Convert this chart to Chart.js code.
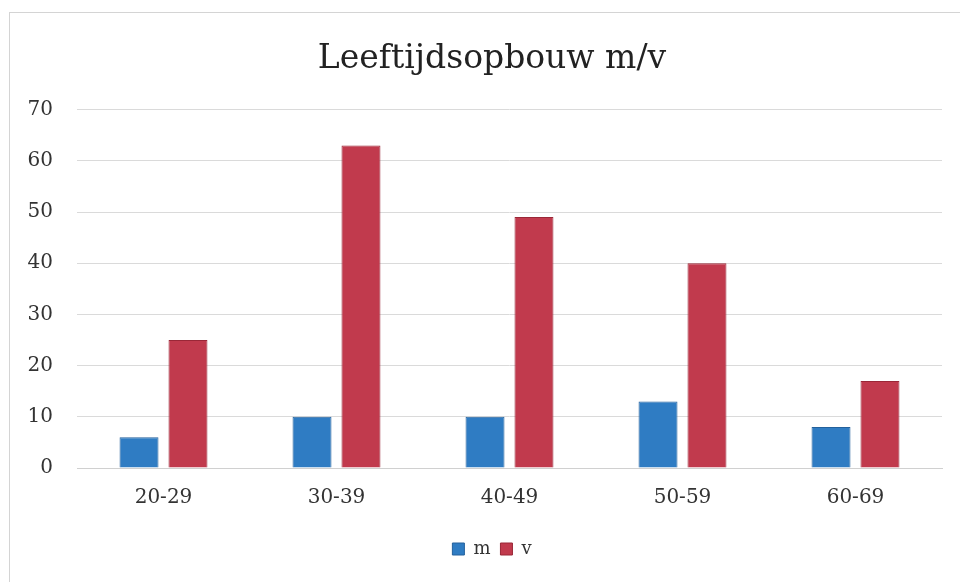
<!DOCTYPE html>
<html>
<head>
<meta charset="utf-8">
<script src="https://cdn.jsdelivr.net/npm/chart.js@4/dist/chart.umd.min.js"></script>
<style>
  html, body { margin: 0; padding: 0; background: #fff; }
  #wrap { position: relative; width: 960px; height: 582px; }
  #frame { position: absolute; left: 9px; top: 12px; right: 0; bottom: 0;
           border-left: 1px solid #d4d4d4; border-top: 1px solid #d4d4d4; }
  canvas { position: absolute; left: 0; top: 0; }
</style>
</head>
<body>
<div id="wrap">
  <div id="frame"></div>
  <canvas id="mainChart" width="960" height="582"></canvas>
</div>
<script>
// Leeftijdsopbouw per geslacht
const categories = ['20-29', '30-39', '40-49', '50-59', '60-69'];
const mannen = [6, 10, 10, 13, 8];
const vrouwen = [25, 63, 49, 40, 17];
const chartTitle = 'Leeftijdsopbouw m/v';

const serif = "'DejaVu Serif', 'Liberation Serif', serif";

document.addEventListener('DOMContentLoaded', function () {
  const ctx = document.getElementById('mainChart').getContext('2d');

  new Chart(ctx, {
    type: 'bar',
    data: {
      labels: categories,
      datasets: [
        { label: 'm', data: mannen, backgroundColor: '#2f7cc3', borderColor: '#24619c', borderWidth: 1 },
        { label: 'v', data: vrouwen, backgroundColor: '#c13a4d', borderColor: '#9a2737', borderWidth: 1 }
      ]
    },
    options: {
      responsive: false,
      animation: false,
      // uneven padding: title and legend sit a bit right of the canvas centre in the original
      layout: { padding: { left: 24, right: 0, top: 0, bottom: 14 } },
      datasets: { bar: { categoryPercentage: 0.566, barPercentage: 0.796 } },
      plugins: {
        title: {
          display: true,
          text: chartTitle,
          color: '#222',
          font: { family: serif, size: 33, weight: 'normal' },
          padding: { top: 40, bottom: 30 }
        },
        legend: {
          position: 'bottom',
          labels: {
            color: '#333',
            font: { family: serif, size: 18 },
            boxWidth: 12, boxHeight: 12, padding: 10
          }
        },
        tooltip: { enabled: false }
      },
      scales: {
        x: {
          grid: { display: false, drawTicks: false },
          border: { display: true, color: '#d0d0d0' },
          ticks: { color: '#333', font: { family: serif, size: 20 }, padding: 18 },
          afterFit: function (scale) { scale.height = 62; }
        },
        y: {
          min: 0, max: 70,
          ticks: { stepSize: 10, color: '#333', font: { family: serif, size: 20 }, padding: 24 },
          grid: { color: '#dadada', drawTicks: false },
          border: { display: false },
          afterFit: function (scale) { scale.width = 53; }
        },
        // empty spacer on the right so the plot ends where the original does
        spacer: {
          type: 'linear',
          position: 'right',
          grid: { display: false, drawTicks: false },
          border: { display: false },
          ticks: { display: false },
          afterFit: function (scale) { scale.width = 18; }
        }
      }
    }
  });
});
</script>
</body>
</html>
